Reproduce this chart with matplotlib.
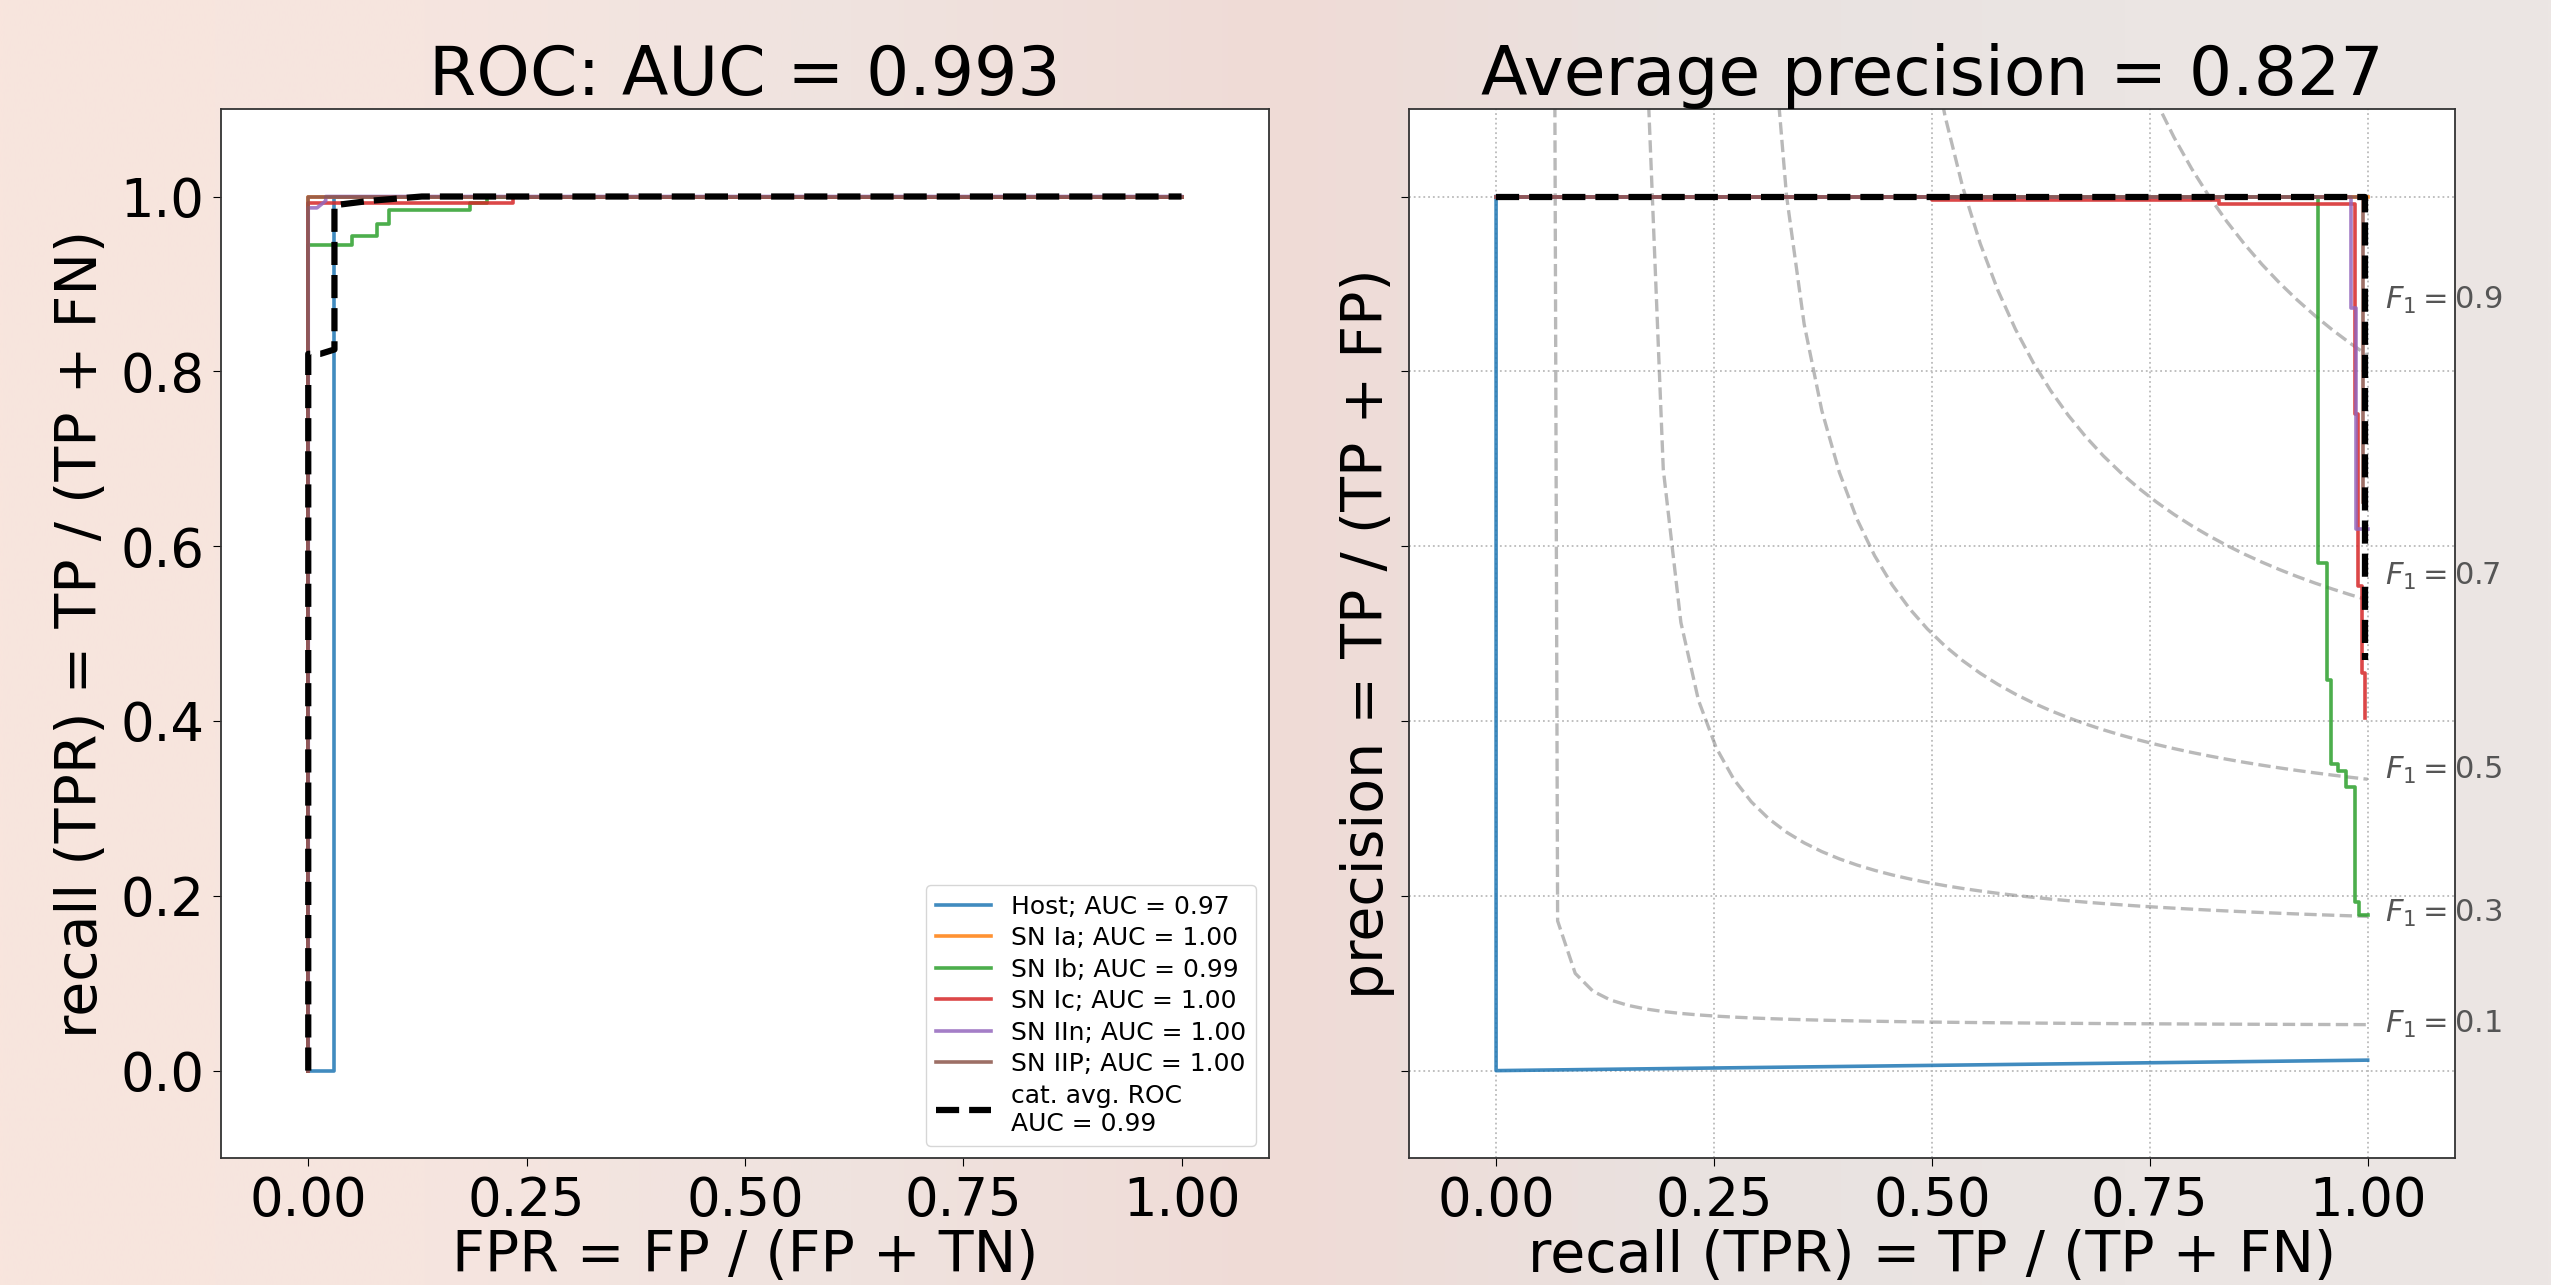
import numpy as np
import matplotlib
matplotlib.use("Agg")
import matplotlib.pyplot as plt
from matplotlib.colors import to_rgb

# ---------------- data ----------------
class_names = ['Host', 'SN Ia', 'SN Ib', 'SN Ic', 'SN IIn', 'SN IIP']
roc_auc = [0.97, 1.00, 0.99, 1.00, 1.00, 1.00]
class_colors = ['tab:blue', 'tab:orange', 'tab:green', 'tab:red', 'tab:purple', 'tab:brown']

# ROC curves (FPR, TPR)
roc_fpr = [
    [0.0, 0.030, 0.030, 1.0],
    [0.0, 0.0, 1.0],
    [0.0, 0.0, 0.050, 0.050, 0.079, 0.079, 0.092, 0.092, 0.185, 0.185, 0.205, 0.205, 1.0],
    [0.0, 0.0, 0.235, 0.235, 1.0],
    [0.0, 0.0, 0.010, 0.020, 0.020, 1.0],
    [0.0, 0.0, 1.0],
]
roc_tpr = [
    [0.0, 0.0, 1.0, 1.0],
    [0.0, 1.0, 1.0],
    [0.0, 0.944, 0.944, 0.955, 0.955, 0.968, 0.968, 0.985, 0.985, 0.993, 0.993, 1.0, 1.0],
    [0.0, 0.993, 0.993, 1.0, 1.0],
    [0.0, 0.987, 0.987, 0.995, 1.0, 1.0],
    [0.0, 1.0, 1.0],
]
avg_roc_fpr = [0.0, 0.0, 0.014, 0.030, 0.030, 0.070, 0.130, 1.0]
avg_roc_tpr = [0.0, 0.82, 0.82, 0.825, 0.990, 0.995, 1.0, 1.0]
avg_roc_auc = 0.99
roc_title_auc = 0.993

# Precision-recall curves (recall, precision)
pr_recall = [
    [0.0, 0.0, 0.25, 0.50, 0.75, 1.0],
    [0.0, 1.0],
    [0.0, 0.943, 0.943, 0.953, 0.953, 0.958, 0.958, 0.966, 0.966, 0.975, 0.975, 0.985, 0.985, 0.990, 0.990, 1.0],
    [0.0, 0.50, 0.50, 0.83, 0.83, 0.986, 0.986, 0.989, 0.989, 0.993, 0.993, 0.997, 0.997],
    [0.0, 0.981, 0.981, 0.987, 0.987, 1.0],
    [0.0, 0.995, 0.995],
]
pr_precision = [
    [1.0, 0.0, 0.003, 0.006, 0.009, 0.012],
    [1.0, 1.0],
    [1.0, 1.0, 0.581, 0.581, 0.447, 0.447, 0.351, 0.351, 0.343, 0.343, 0.325, 0.325, 0.193, 0.193, 0.178, 0.178],
    [1.0, 1.0, 0.996, 0.996, 0.992, 0.992, 0.751, 0.751, 0.554, 0.554, 0.455, 0.455, 0.403],
    [1.0, 1.0, 0.873, 0.873, 0.62, 0.62],
    [1.0, 1.0, 0.65],
]
avg_pr_recall = [0.0, 0.997, 0.997]
avg_pr_precision = [1.0, 1.0, 0.47]
average_precision = 0.827

f1_scores = [0.1, 0.3, 0.5, 0.7, 0.9]

x_ticks = [0.0, 0.25, 0.5, 0.75, 1.0]
y_ticks = [0.0, 0.2, 0.4, 0.6, 0.8, 1.0]

# ---------------- figure ----------------
W, H = 2551, 1285
DPI = 100
fig = plt.figure(figsize=(W / DPI, H / DPI), dpi=DPI)
fig.patch.set_facecolor('#efe4e0')

# soft blurred background
bg_stops = ['#f8e5dd', '#f6e5df', '#efe3df', '#f0dbd6', '#e9e2e0', '#ebe5e3', '#ece6e4']
stops = np.array([to_rgb(c) for c in bg_stops])
xs = np.linspace(0, 1, 400)
sp = np.linspace(0, 1, len(bg_stops))
row = np.stack([np.interp(xs, sp, stops[:, k]) for k in range(3)], axis=-1)
grad = np.repeat(row[None, :, :], 2, axis=0)
bg = fig.add_axes([0, 0, 1, 1], zorder=-10)
bg.imshow(grad, aspect='auto', extent=[0, 1, 0, 1], interpolation='bilinear')
bg.axis('off')

ax1 = fig.add_axes([0.0866, 0.0988, 0.4108, 0.8163])
ax2 = fig.add_axes([0.5523, 0.0988, 0.4100, 0.8163])

LW = 2.6
ALPHA = 0.85
TICK_FS = 38
LABEL_FS = 41
TITLE_FS = 49

# ---- ROC panel ----
for name, auc, col, fx, ty in zip(class_names, roc_auc, class_colors, roc_fpr, roc_tpr):
    ax1.plot(fx, ty, color=col, lw=LW, alpha=ALPHA, label=f'{name}; AUC = {auc:.2f}')
ax1.plot(avg_roc_fpr, avg_roc_tpr, color='black', lw=4.5, ls='--',
         label=f'cat. avg. ROC\nAUC = {avg_roc_auc:.2f}')
ax1.set_xlim(-0.1, 1.1)
ax1.set_ylim(-0.1, 1.1)
ax1.set_xticks(x_ticks)
ax1.set_xticklabels([f'{t:.2f}' for t in x_ticks])
ax1.set_yticks(y_ticks)
ax1.set_yticklabels([f'{t:.1f}' for t in y_ticks])
ax1.tick_params(labelsize=TICK_FS, length=6, pad=6)
ax1.set_xlabel('FPR = FP / (FP + TN)', fontsize=LABEL_FS, labelpad=2)
ax1.set_ylabel('recall (TPR) = TP / (TP + FN)', fontsize=LABEL_FS, labelpad=8)
ax1.set_title(f'ROC: AUC = {roc_title_auc:.3f}', fontsize=TITLE_FS, pad=10)
ax1.legend(loc='lower right', fontsize=18, handlelength=2.2, labelspacing=0.3)

# ---- PR panel ----
xf = np.linspace(0.01, 1)
for f in f1_scores:
    yf = f * xf / (2 * xf - f)
    ax2.plot(xf[yf >= 0], yf[yf >= 0], color='gray', alpha=0.55, lw=2.4, ls='--')
    ax2.text(1.02, yf[45], f'$F_1 = {f:0.1f}$', fontsize=22, color='#555555',
             va='center', ha='left', clip_on=False)

for col, rc, pr in zip(class_colors, pr_recall, pr_precision):
    ax2.plot(rc, pr, color=col, lw=LW, alpha=ALPHA)
ax2.plot(avg_pr_recall, avg_pr_precision, color='black', lw=4.5, ls='--')

ax2.set_xlim(-0.1, 1.1)
ax2.set_ylim(-0.1, 1.1)
ax2.set_xticks(x_ticks)
ax2.set_xticklabels([f'{t:.2f}' for t in x_ticks])
ax2.set_yticks(y_ticks)
ax2.set_yticklabels([])
ax2.grid(True, ls=':', color='#bbbbbb', lw=1.3)
ax2.set_axisbelow(True)
ax2.tick_params(labelsize=TICK_FS, length=6, pad=6)
ax2.set_xlabel('recall (TPR) = TP / (TP + FN)', fontsize=LABEL_FS, labelpad=2)
ax2.set_ylabel('precision = TP / (TP + FP)', fontsize=LABEL_FS, labelpad=-2)
ax2.set_title(f'Average precision = {average_precision:.3f}', fontsize=TITLE_FS, pad=10)

for ax in (ax1, ax2):
    for s in ax.spines.values():
        s.set_color('#333333')
        s.set_linewidth(1.3)

fig.savefig('out.png', dpi=DPI, facecolor=fig.get_facecolor())
